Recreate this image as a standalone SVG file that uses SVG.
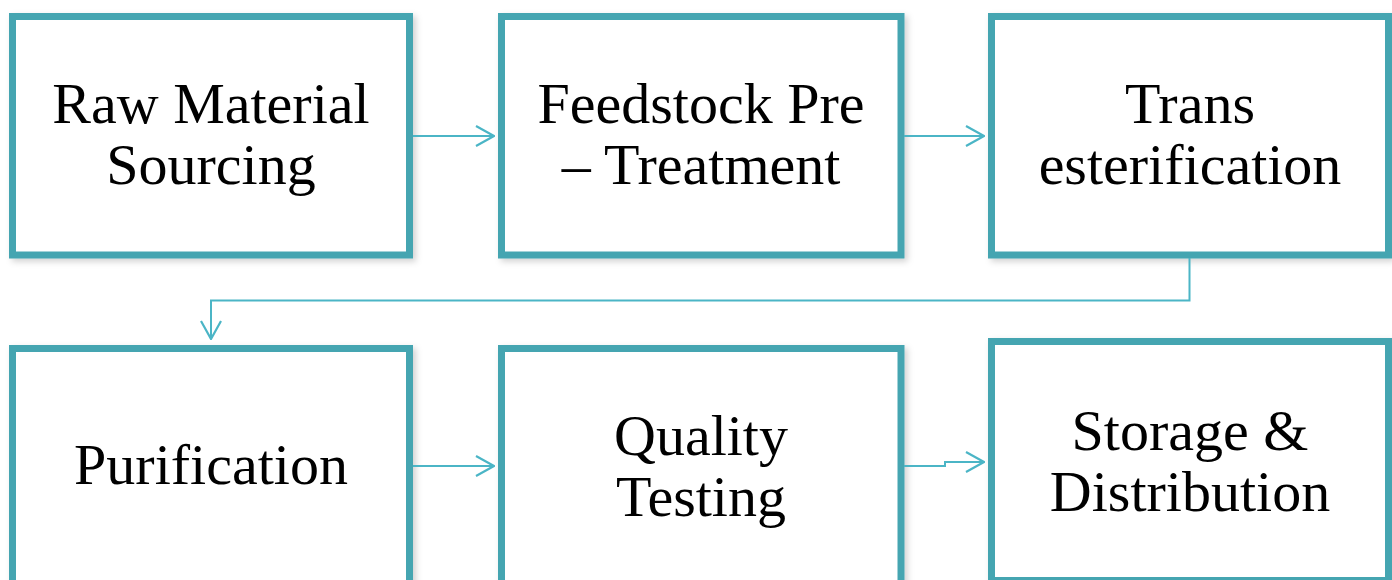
<svg xmlns="http://www.w3.org/2000/svg" width="1392" height="580" viewBox="0 0 1392 580">
<style>
.box{fill:#ffffff;stroke:#44A5B1;stroke-width:7;filter:url(#sh)}
.lbl{font-family:"Liberation Serif","Times New Roman",serif;font-size:58px;fill:#000;text-anchor:middle}
.con{fill:none;stroke:#4BB5C6;stroke-width:2}
</style>
<defs>
<filter id="sh" x="-5%" y="-5%" width="112%" height="115%">
<feDropShadow dx="3" dy="3" stdDeviation="3" flood-color="#000" flood-opacity="0.18"/>
</filter>
<marker id="arr" viewBox="0 0 20 22" refX="19" refY="11" markerWidth="20" markerHeight="22" markerUnits="userSpaceOnUse" orient="auto">
<path d="M1,1 L19,11 L1,21" fill="none" stroke="#4BB5C6" stroke-width="2.2"/>
</marker>
</defs>
<g id="n1"><rect class="box" x="12.5" y="16.5" width="397" height="238.5"/>
<text class="lbl" x="211" y="123">Raw Material</text><text class="lbl" x="211" y="184">Sourcing</text></g>
<g id="n2"><rect class="box" x="501.5" y="16.5" width="399.5" height="238.5"/>
<text class="lbl" x="701" y="123">Feedstock Pre</text><text class="lbl" x="701" y="184">– Treatment</text></g>
<g id="n3"><rect class="box" x="991.5" y="16.5" width="397" height="238.5"/>
<text class="lbl" x="1190" y="123">Trans</text><text class="lbl" x="1190" y="184">esterification</text></g>
<g id="n4"><rect class="box" x="12.5" y="348.5" width="397" height="238.5"/>
<text class="lbl" x="211" y="484">Purification</text></g>
<g id="n5"><rect class="box" x="501.5" y="348.5" width="399.5" height="238.5"/>
<text class="lbl" x="701" y="455">Quality</text><text class="lbl" x="701" y="516">Testing</text></g>
<g id="n6"><rect class="box" x="991.5" y="341.5" width="397" height="239"/>
<text class="lbl" x="1190" y="450">Storage &amp;</text><text class="lbl" x="1190" y="511">Distribution</text></g>
<g id="connectors">
<path class="con" d="M413,136 H494" marker-end="url(#arr)"/>
<path class="con" d="M904,136 H984" marker-end="url(#arr)"/>
<path class="con" d="M1189.5,258 V300.5 H211 V339" marker-end="url(#arr)"/>
<path class="con" d="M413,466 H494" marker-end="url(#arr)"/>
<path class="con" d="M904,466 H945 V462 H984" marker-end="url(#arr)"/>
</g>
</svg>
